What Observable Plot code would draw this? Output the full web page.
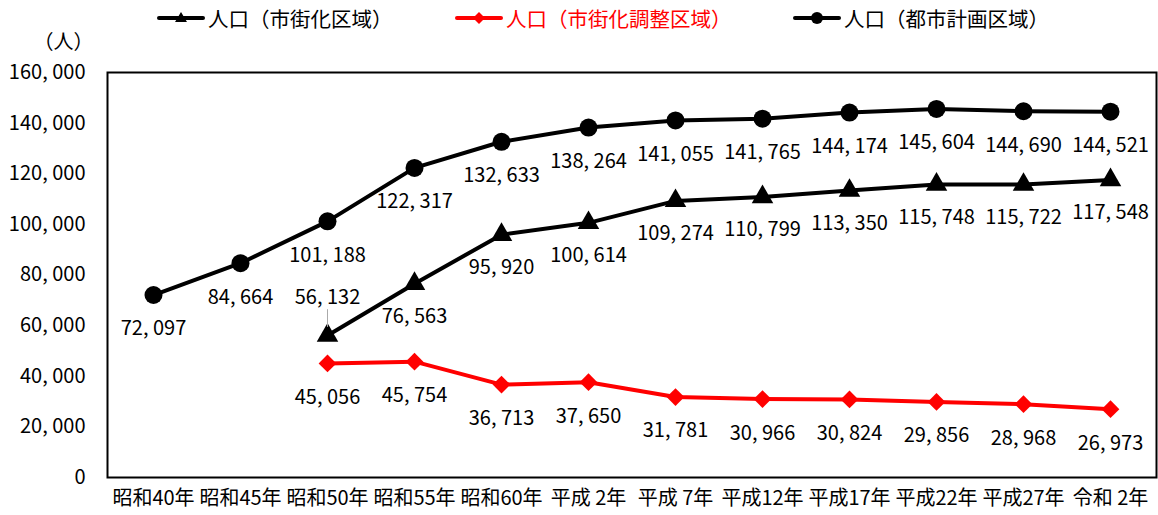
<!DOCTYPE html>
<html>
<head>
<meta charset="utf-8">
<script src="https://cdn.jsdelivr.net/npm/d3@7"></script>
<script src="https://cdn.jsdelivr.net/npm/@observablehq/plot@0.6"></script>
<style>
  html, body { margin: 0; padding: 0; background: #fff; }
  body { position: relative; width: 1158px; height: 515px; overflow: hidden; font-family: "Liberation Sans Narrow", "Noto Sans CJK JP", sans-serif; }
  #legend { position: absolute; left: 0; top: 0; width: 1158px; height: 40px; font-size: 20.5px; font-family: "Noto Sans CJK JP", sans-serif; z-index: 2; }
  .item { position: absolute; top: 3px; display: flex; align-items: center; white-space: nowrap; }
  .item svg { margin-right: 3px; }
</style>
</head>
<body>
<div id="chart"></div>
<div id="legend"></div>
<script>
const years = ["昭和40年", "昭和45年", "昭和50年", "昭和55年", "昭和60年", "平成 2年", "平成 7年", "平成12年", "平成17年", "平成22年", "平成27年", "令和 2年"];
const seriesNames = ["人口（市街化区域）", "人口（市街化調整区域）", "人口（都市計画区域）"];
const unitLabel = "（人）";
const urbanYears = ["昭和50年", "昭和55年", "昭和60年", "平成 2年", "平成 7年", "平成12年", "平成17年", "平成22年", "平成27年", "令和 2年"];
const urbanValues = [56132, 76563, 95920, 100614, 109274, 110799, 113350, 115748, 115722, 117548];
const adjustValues = [45056, 45754, 36713, 37650, 31781, 30966, 30824, 29856, 28968, 26973];
const cityValues = [72097, 84664, 101188, 122317, 132633, 138264, 141055, 141765, 144174, 145604, 144690, 144521];
const yTicks = [0, 20000, 40000, 60000, 80000, 100000, 120000, 140000, 160000];

const urban = urbanYears.map((x, i) => ({x, y: urbanValues[i], i}));
const adjust = urbanYears.map((x, i) => ({x, y: adjustValues[i], i}));
const city = years.map((x, i) => ({x, y: cityValues[i], i}));

const fmt = v => d3.format(",")(v).replace(",", ", ");

// Legend
const legendItems = [
  {name: seriesNames[0], color: "black", sym: "tri", left: 157},
  {name: seriesNames[1], color: "red", sym: "dia", left: 455},
  {name: seriesNames[2], color: "black", sym: "cir", left: 793}
];
const legend = document.getElementById("legend");
for (const it of legendItems) {
  const div = document.createElement("div");
  div.className = "item";
  div.style.left = it.left + "px";
  div.style.color = it.color;
  let marker = "";
  if (it.sym === "tri") marker = `<polygon points="24,7 30,17 18,17" fill="${it.color}"/>`;
  if (it.sym === "dia") marker = `<polygon points="24,7 30,13 24,19 18,13" fill="${it.color}"/>`;
  if (it.sym === "cir") marker = `<circle cx="24" cy="13" r="6" fill="${it.color}"/>`;
  div.innerHTML = `<svg width="48" height="26"><line x1="2" y1="13" x2="46" y2="13" stroke="${it.color}" stroke-width="4" stroke-linecap="round"/>${marker}</svg><span>${it.name}</span>`;
  legend.appendChild(div);
}

const chart = Plot.plot({
  width: 1158,
  height: 515,
  marginTop: 72,
  marginBottom: 38,
  marginLeft: 107,
  marginRight: 2,
  style: {fontFamily: "'Liberation Sans Narrow', 'Noto Sans CJK JP', sans-serif", fontSize: "20px", color: "black", background: "white"},
  x: {type: "point", domain: years, padding: 0.5, label: null, tickSize: 0, tickPadding: 13},
  y: {domain: [0, 160000], ticks: yTicks, tickFormat: fmt, tickSize: 0, tickPadding: 22, label: null},
  marks: [
    Plot.frame({stroke: "black", strokeWidth: 2}),
    Plot.text([unitLabel], {frameAnchor: "top-left", text: d => d, dx: -44, dy: -30, textAnchor: "middle", lineAnchor: "middle", fontFamily: "Noto Sans CJK JP", fill: "black"}),
    Plot.line(city, {x: "x", y: "y", stroke: "black", strokeWidth: 4}),
    Plot.line(urban, {x: "x", y: "y", stroke: "black", strokeWidth: 4}),
    Plot.line(adjust, {x: "x", y: "y", stroke: "red", strokeWidth: 4}),
    Plot.dot(city, {x: "x", y: "y", r: 9, fill: "black", symbol: "circle"}),
    Plot.dot(urban, {x: "x", y: "y", r: 8, fill: "black", symbol: "triangle"}),
    Plot.dot(adjust, {x: "x", y: "y", r: 8, fill: "red", symbol: "diamond2"}),
    Plot.text(city, {x: "x", y: "y", text: d => fmt(d.y), dy: 34, fill: "black"}),
    Plot.text(urban.filter(d => d.i > 0), {x: "x", y: "y", text: d => fmt(d.y), dy: 33, fill: "black"}),
    Plot.text(urban.filter(d => d.i === 0), {x: "x", y: "y", text: d => fmt(d.y), dy: -38, fill: "black"}),
    Plot.ruleX(urban.filter(d => d.i === 0), {x: "x", y1: "y", y2: d => d.y + 7000, dy: -8, stroke: "#aaa", strokeWidth: 1}),
    Plot.text(adjust, {x: "x", y: "y", text: d => fmt(d.y), dy: 34, fill: "black"})
  ]
});
document.getElementById("chart").appendChild(chart);
</script>
</body>
</html>
